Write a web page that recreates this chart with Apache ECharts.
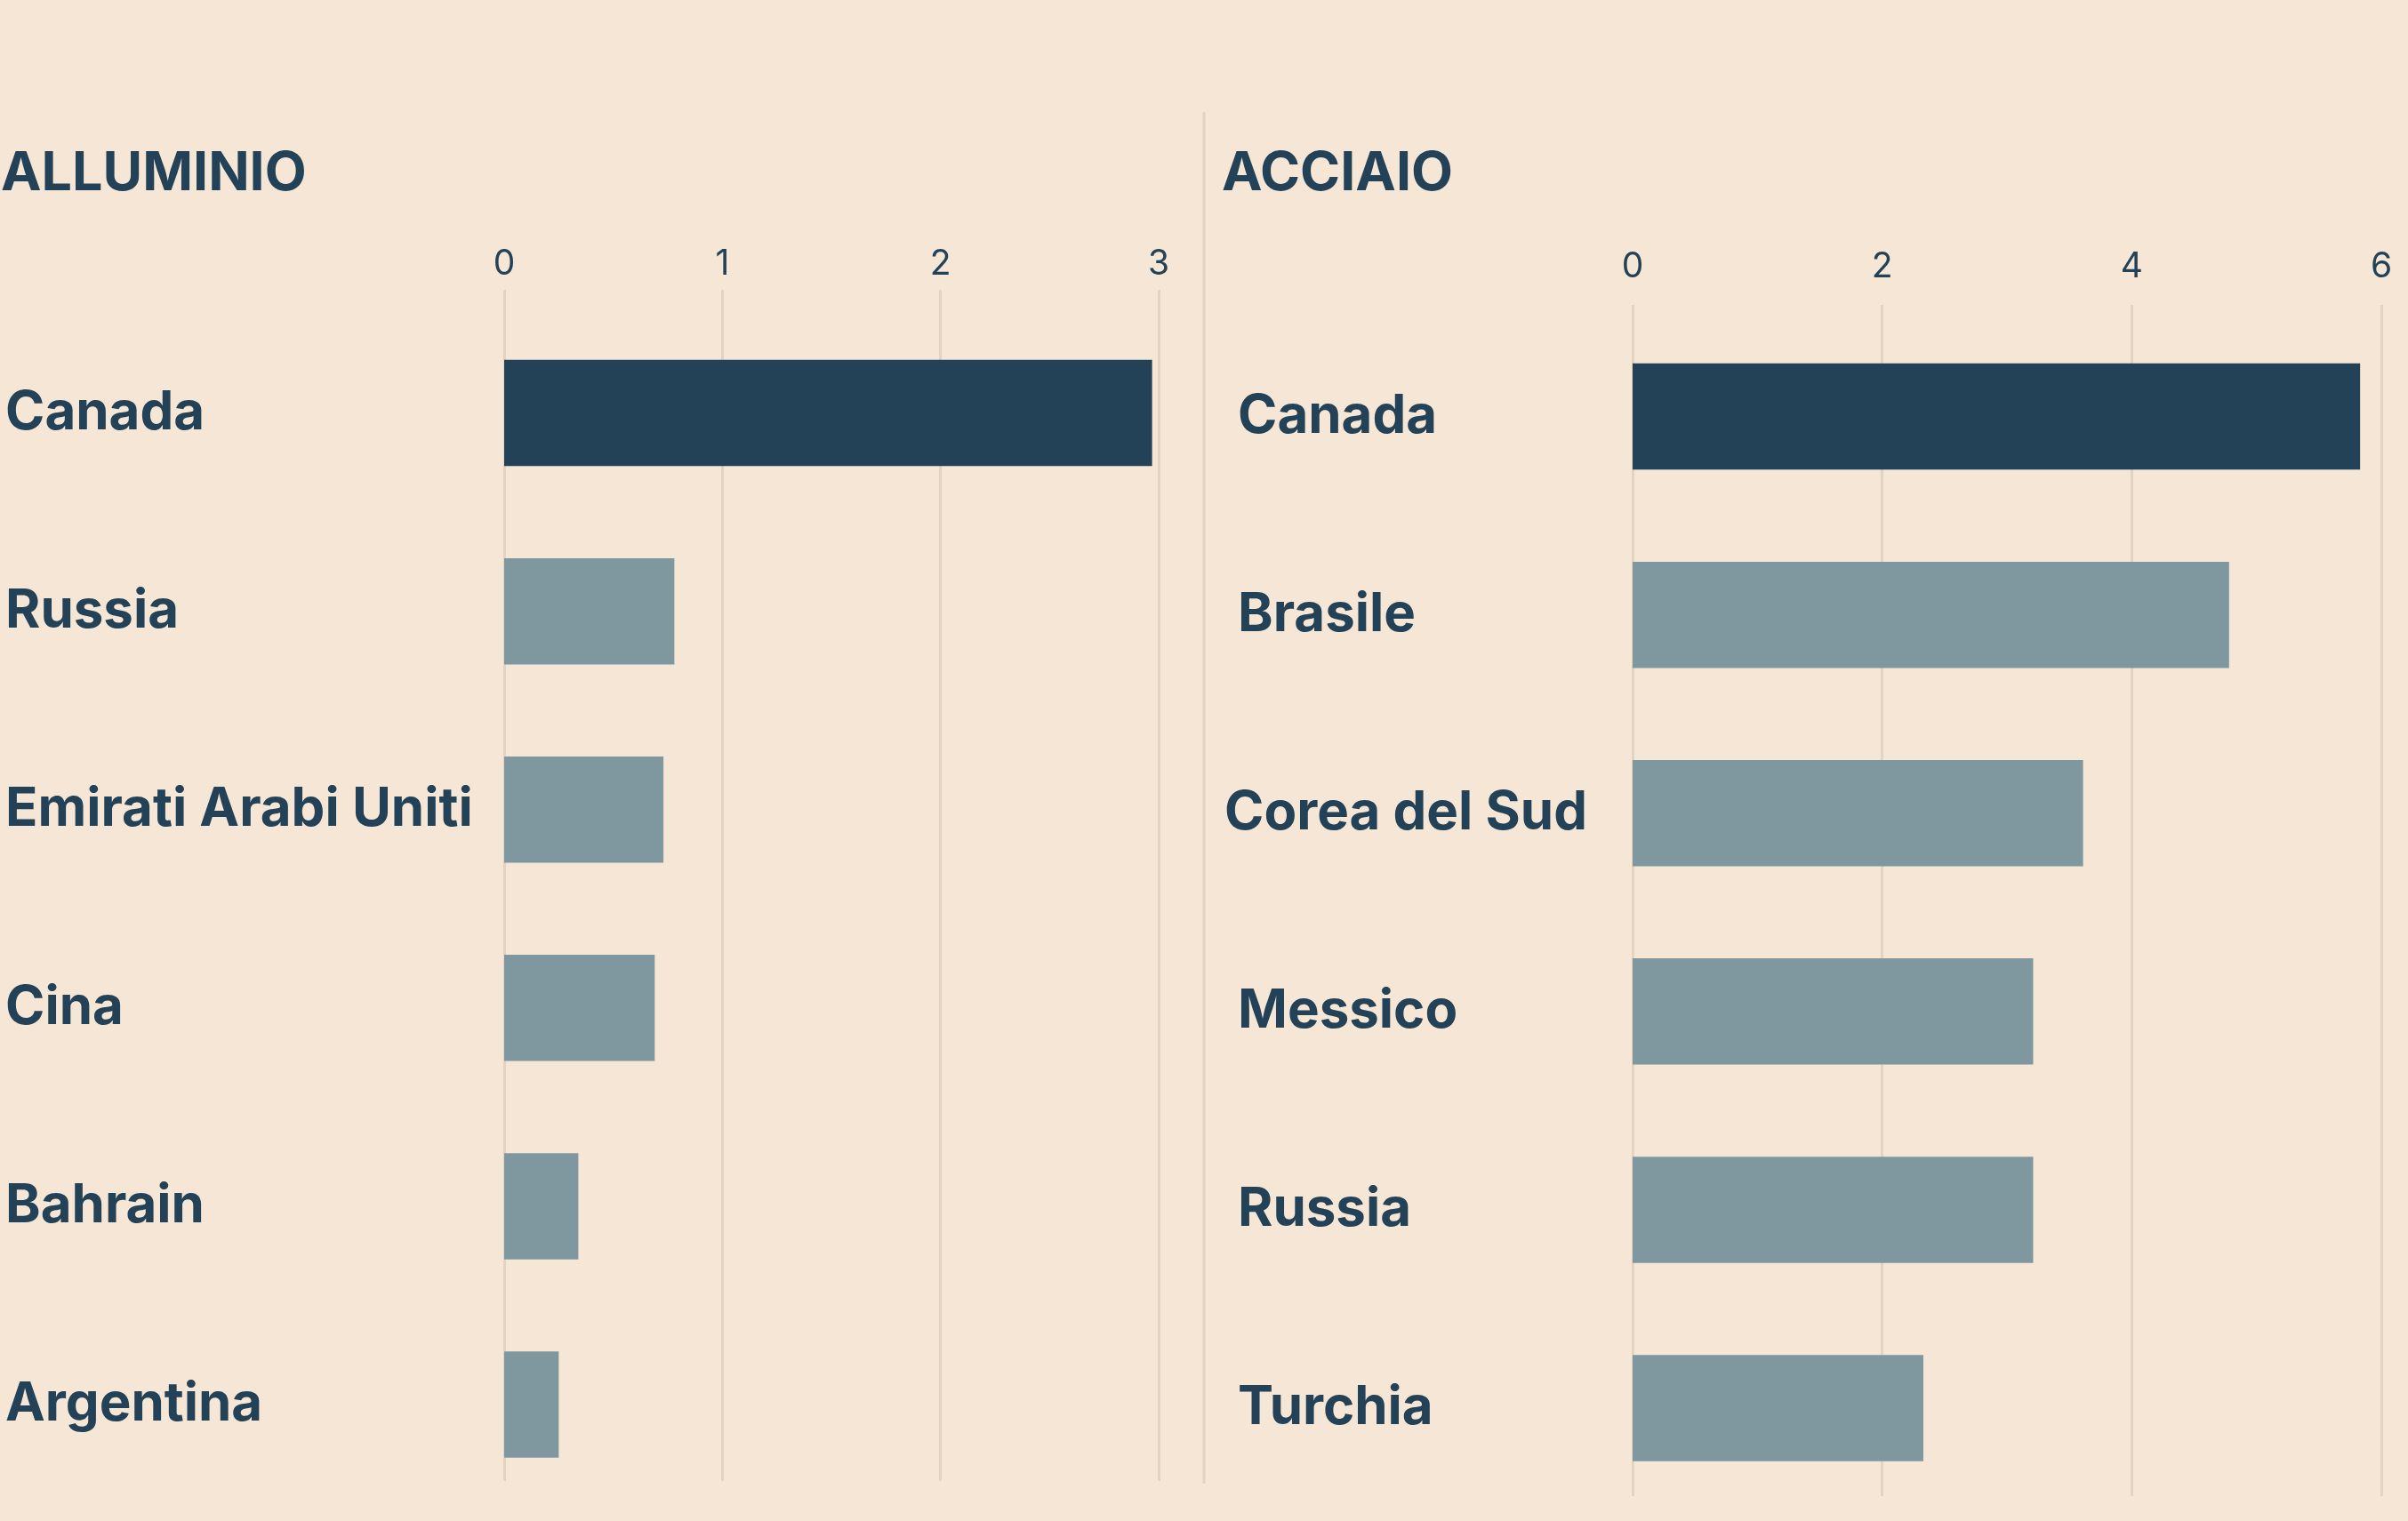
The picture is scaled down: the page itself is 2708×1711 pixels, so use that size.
<!DOCTYPE html>
<html>
<head>
<meta charset="utf-8">
<script src="https://cdn.jsdelivr.net/npm/echarts@6/dist/echarts.min.js"></script>
<style>
html,body{margin:0;padding:0;background:#F5E6D6;}
#chart{width:2708px;height:1711px;}
</style>
</head>
<body>
<div id="chart"></div>
<script>
// ---- data ----
const alluminioCountries = ['Canada', 'Russia', 'Emirati Arabi Uniti', 'Cina', 'Bahrain', 'Argentina'];
const alluminioValues = [2.97, 0.78, 0.73, 0.69, 0.34, 0.25];
const acciaioCountries = ['Canada', 'Brasile', 'Corea del Sud', 'Messico', 'Russia', 'Turchia'];
const acciaioValues = [5.83, 4.78, 3.61, 3.21, 3.21, 2.33];
const alluminioTicks = { min: 0, max: 3, interval: 1 };
const acciaioTicks = { min: 0, max: 6, interval: 2 };
const titles = ['ALLUMINIO', 'ACCIAIO'];

// ---- style ----
const DARK = '#244257';
const LIGHT = '#7F979E';
const GRID = '#E2D3C2';
const FONT = 'Inter';
const LABEL_SIZE = 60;

const chart = echarts.init(document.getElementById('chart'), null, { renderer: 'canvas' });

function catAxis(gridIndex, data, margin, shift) {
  return {
    type: 'category', gridIndex, data, inverse: true,
    axisLine: { show: false }, axisTick: { show: false }, splitLine: { show: false },
    axisLabel: {
      margin, align: 'left', color: DARK, fontFamily: FONT, fontWeight: 700, fontSize: LABEL_SIZE,
      formatter: v => v.length > 12 ? '{w|' + v + '}' : '{n|' + v + '}',
      rich: {
        n: { color: DARK, fontFamily: FONT, fontWeight: 700, fontSize: LABEL_SIZE, padding: [0, 0, 0, shift] },
        w: { color: DARK, fontFamily: FONT, fontWeight: 700, fontSize: LABEL_SIZE }
      }
    }
  };
}
function hiddenValAxis(gridIndex, t) {
  return { type: 'value', gridIndex, min: t.min, max: t.max, interval: t.interval, show: false };
}
function tickAxis(gridIndex, t, margin) {
  return {
    type: 'value', gridIndex, min: t.min, max: t.max, interval: t.interval, position: 'top',
    axisLine: { show: false }, axisTick: { show: false },
    splitLine: { show: true, lineStyle: { color: GRID, width: 3 } },
    axisLabel: { margin, color: DARK, fontFamily: FONT, fontWeight: 400, fontSize: 39, verticalAlign: 'middle' }
  };
}
function barSeries(xi, yi, values) {
  return {
    type: 'bar', xAxisIndex: xi, yAxisIndex: yi, data: values, barWidth: 119.5,
    itemStyle: { color: p => p.dataIndex === 0 ? DARK : LIGHT },
    silent: true, animation: false
  };
}

chart.setOption({
  backgroundColor: '#F5E6D6',
  animation: false,
  title: [
    { text: titles[0], left: -4, top: 160, textStyle: { color: DARK, fontFamily: FONT, fontWeight: 700, fontSize: 61 } },
    { text: titles[1], left: 1369, top: 160, textStyle: { color: DARK, fontFamily: FONT, fontWeight: 700, fontSize: 61 } }
  ],
  grid: [
    { left: 567, right: 1405, top: 353, height: 1338.6 },
    { left: 567, right: 1405, top: 326, height: 1340 },
    { left: 1836, right: 30, top: 357, height: 1338.6 },
    { left: 1836, right: 30, top: 343, height: 1340 }
  ],
  xAxis: [
    hiddenValAxis(0, alluminioTicks),
    tickAxis(1, alluminioTicks, 29),
    hiddenValAxis(2, acciaioTicks),
    tickAxis(3, acciaioTicks, 43)
  ],
  yAxis: [
    catAxis(0, alluminioCountries, 561, 0),
    { type: 'value', gridIndex: 1, show: false },
    catAxis(2, acciaioCountries, 459, 15),
    { type: 'value', gridIndex: 3, show: false }
  ],
  series: [
    barSeries(0, 0, alluminioValues),
    barSeries(2, 2, acciaioValues)
  ],
  graphic: [
    { type: 'line', silent: true, shape: { x1: 1354, y1: 126, x2: 1354, y2: 1669 }, style: { stroke: GRID, lineWidth: 3 } }
  ]
});
</script>
</body>
</html>
